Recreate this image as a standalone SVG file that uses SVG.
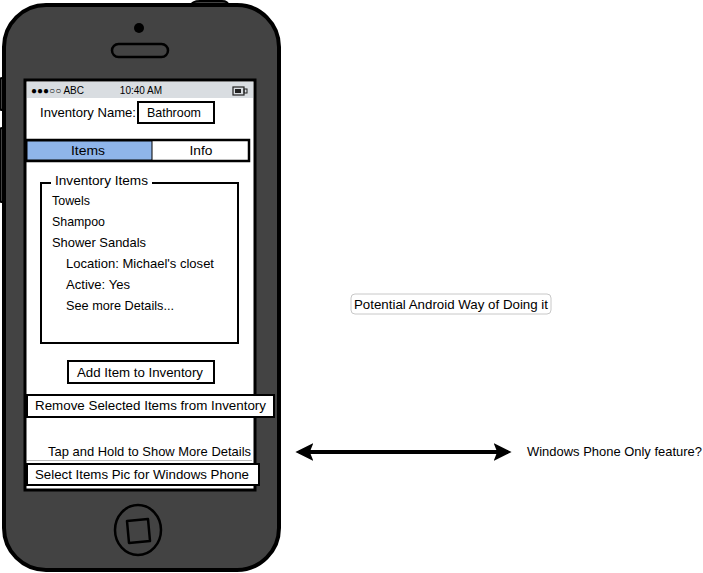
<svg xmlns="http://www.w3.org/2000/svg" width="703" height="573" viewBox="0 0 703 573">
<style>
text{font-family:"Liberation Sans","DejaVu Sans",sans-serif;font-size:13px;fill:#000}
.s{font-size:10px}
.box{fill:#fff;stroke:#000;stroke-width:2}
.n{fill:#fff;stroke:none}
</style>
<defs>
<marker id="ah" viewBox="0 0 10 10" refX="8" refY="5" markerWidth="4.5" markerHeight="4.5" orient="auto-start-reverse">
<path d="M0,0 L10,5 L0,10 L2,5 Z" fill="#000"/>
</marker>
</defs>
<rect width="703" height="573" fill="#fff"/>
<g id="phone">
<path d="M190,6 Q192,1 200,1 L222,1 Q228,1 229,6 Z" fill="#434343" stroke="#000" stroke-width="2"/>
<rect x="0" y="78" width="6" height="32" rx="2" fill="#434343" stroke="#000" stroke-width="2"/>
<rect x="0" y="128" width="6" height="74" rx="2" fill="#434343" stroke="#000" stroke-width="2"/>
<rect x="4" y="5" width="275" height="565" rx="42" fill="#434343" stroke="#000" stroke-width="4"/>
<circle cx="139" cy="28" r="5" fill="#000"/>
<rect x="112" y="44" width="56" height="13" rx="6.5" fill="none" stroke="#000" stroke-width="2.5"/>
<ellipse cx="138" cy="530" rx="23" ry="25" fill="none" stroke="#000" stroke-width="2.5"/>
<path d="M127,521 L148,519 L150,541 L129,543 Z" fill="none" stroke="#000" stroke-width="2.5" stroke-linejoin="round"/>
</g>
<g id="screen">
<rect x="25" y="80" width="230" height="410" fill="#fff" stroke="#000" stroke-width="3"/>
<rect x="27" y="82" width="226" height="16" fill="#d9dde1"/>
<text class="s" x="31" y="94">●●●○○ ABC</text>
<text class="s" x="141" y="94" text-anchor="middle">10:40 AM</text>
<rect x="233" y="87" width="11" height="8" fill="none" stroke="#222" stroke-width="1.2"/>
<rect x="235" y="89" width="6" height="4" fill="#222"/>
<rect x="244" y="89" width="3" height="4" fill="none" stroke="#222" stroke-width="1"/>
</g>
<g id="inventory-name">
<text x="40" y="117" textLength="96" lengthAdjust="spacingAndGlyphs">Inventory Name:</text>
<rect class="box" x="138" y="102" width="76" height="21"/>
<text x="147" y="117" textLength="54" lengthAdjust="spacingAndGlyphs">Bathroom</text>
</g>
<g id="tabs">
<rect x="26" y="140" width="223" height="21" fill="#fff" stroke="#000" stroke-width="2.5"/>
<rect x="27" y="141" width="125" height="19" fill="#8fb5ea" stroke="#000" stroke-width="1"/>
<text x="88" y="155" text-anchor="middle" textLength="34" lengthAdjust="spacingAndGlyphs">Items</text>
<text x="201" y="155" text-anchor="middle" textLength="23" lengthAdjust="spacingAndGlyphs">Info</text>
</g>
<g id="inventory-items">
<rect x="41" y="183" width="197" height="160" fill="#fff" stroke="#000" stroke-width="2"/>
<rect class="n" x="51" y="175" width="101" height="14"/>
<text x="55" y="185" textLength="93" lengthAdjust="spacingAndGlyphs">Inventory Items</text>
<text x="52" y="205" textLength="38" lengthAdjust="spacingAndGlyphs">Towels</text>
<text x="52" y="226" textLength="53" lengthAdjust="spacingAndGlyphs">Shampoo</text>
<text x="52" y="247" textLength="94" lengthAdjust="spacingAndGlyphs">Shower Sandals</text>
<text x="66" y="268" textLength="148" lengthAdjust="spacingAndGlyphs">Location: Michael's closet</text>
<text x="66" y="289" textLength="64" lengthAdjust="spacingAndGlyphs">Active: Yes</text>
<text x="66" y="310" textLength="108" lengthAdjust="spacingAndGlyphs">See more Details...</text>
</g>
<g id="add-item">
<rect class="box" x="68" y="361" width="146" height="22"/>
<text x="77" y="377" textLength="126" lengthAdjust="spacingAndGlyphs">Add Item to Inventory</text>
</g>
<g id="remove-items">
<rect class="box" x="27" y="395" width="247" height="22"/>
<text x="35" y="410" textLength="231" lengthAdjust="spacingAndGlyphs">Remove Selected Items from Inventory</text>
</g>
<g id="tap-hold">
<rect x="27" y="418" width="225" height="42" fill="#fff"/>
<line x1="27" y1="460.5" x2="252" y2="460.5" stroke="#bbb" stroke-width="1"/>
<text x="251" y="456" text-anchor="end" textLength="203" lengthAdjust="spacingAndGlyphs">Tap and Hold to Show More Details</text>
</g>
<g id="select-pic">
<rect class="box" x="27" y="464" width="232" height="21"/>
<text x="35" y="479" textLength="214" lengthAdjust="spacingAndGlyphs">Select Items Pic for Windows Phone</text>
</g>
<g id="android-note">
<rect x="351" y="294" width="200" height="20" rx="4" fill="#fff" stroke="#c8c8c8" stroke-width="1"/>
<text x="354" y="309" textLength="194" lengthAdjust="spacingAndGlyphs">Potential Android Way of Doing it</text>
</g>
<g id="windows-note">
<text x="527" y="456" textLength="175" lengthAdjust="spacingAndGlyphs">Windows Phone Only feature?</text>
</g>
<g id="connectors">
<line x1="299" y1="452" x2="508" y2="452" stroke="#000" stroke-width="4" marker-start="url(#ah)" marker-end="url(#ah)"/>
</g>
</svg>
